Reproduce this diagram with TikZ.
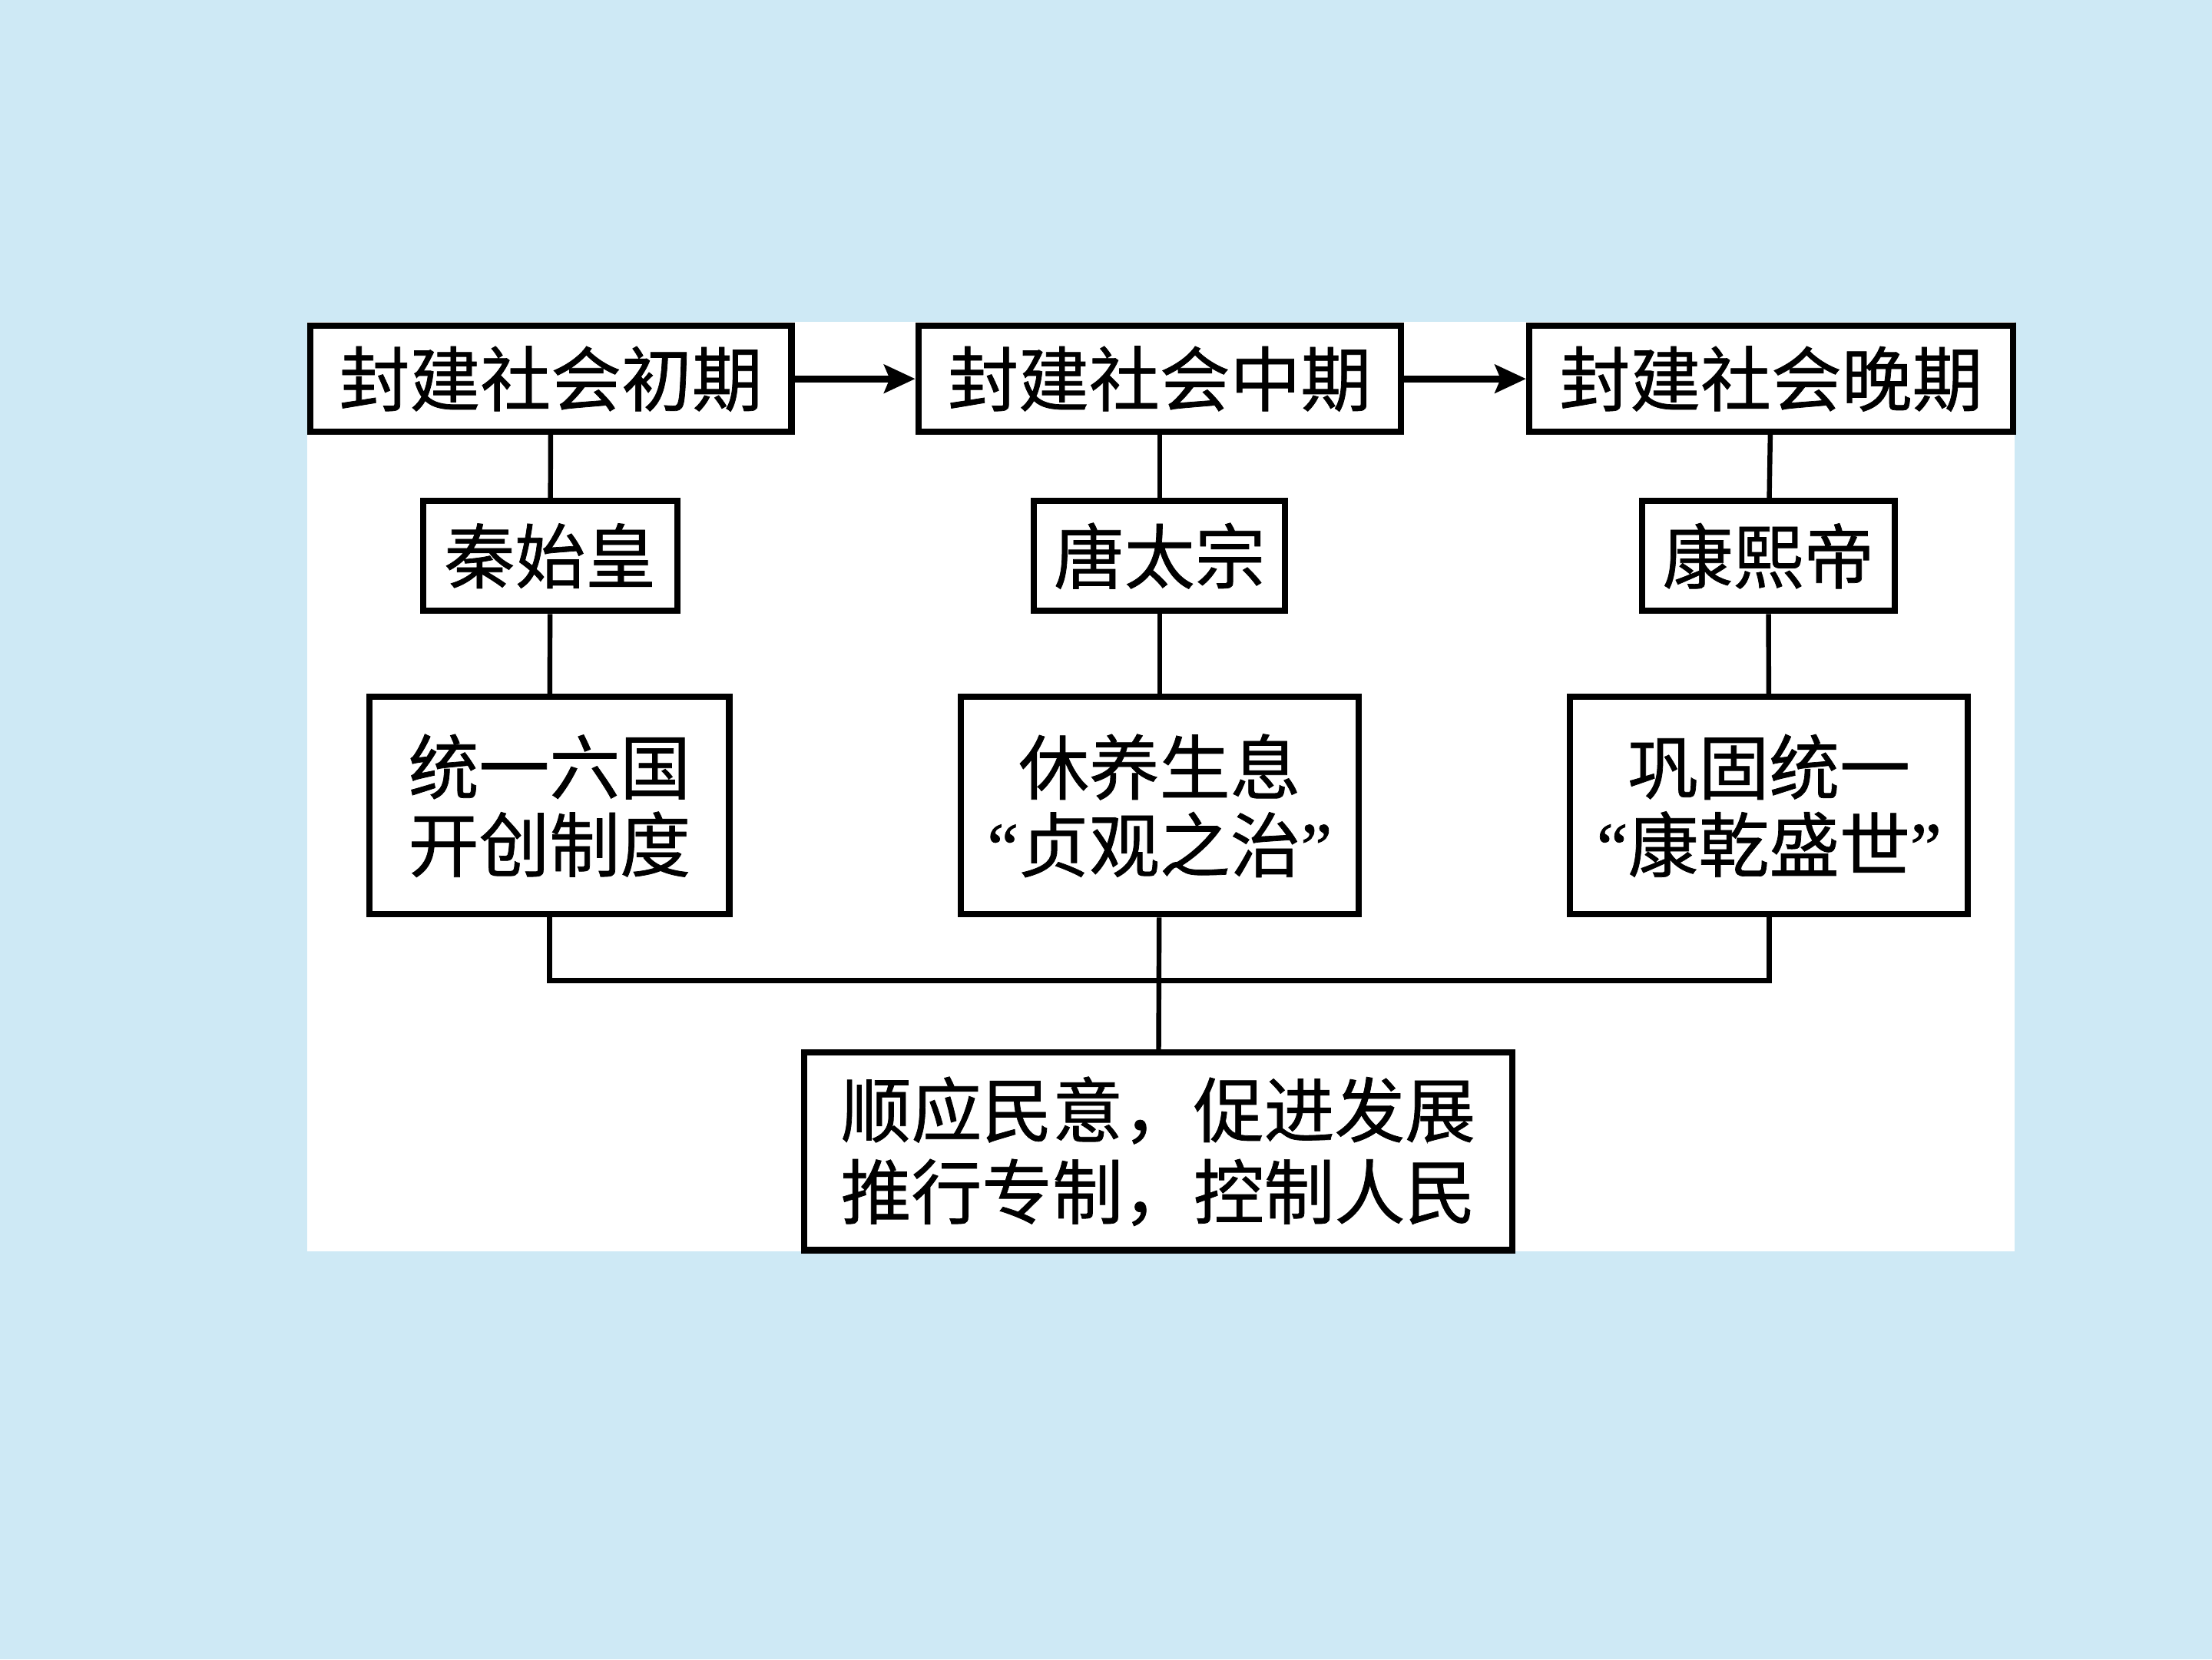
\documentclass[tikz,border=0pt]{standalone}
\usepackage{fontspec}
\setmainfont{Noto Sans CJK SC}[FakeBold=0.8]
\newfontfamily\qf{Liberation Serif}[FakeBold=0.8]
\newcommand{\myLQ}{{\qf “}}
\newcommand{\myRQ}{{\qf ”}}
\usetikzlibrary{arrows.meta}
\definecolor{bgblue}{RGB}{206,233,245}
\tikzset{
  box/.style={draw=black, line width=4.5pt, fill=white, inner sep=0pt, align=center,
    font=\fontsize{50}{55}\selectfont},
  link/.style={line width=3.5pt},
  flow/.style={line width=5pt, -{Stealth[length=22pt,width=20pt,inset=4pt]}}
}
\begin{document}
\begin{tikzpicture}[x=1pt,y=-1pt]
\useasboundingbox (0,0) rectangle (1568,1176);
\fill[bgblue] (0,0) rectangle (1568,1176);
\fill[white] (218,228) rectangle (1428,887);

\node[box, minimum width=341pt, minimum height=75pt] (t1) at (390.5,268.5) {封建社会初期};
\node[box, minimum width=342pt, minimum height=75pt] (t2) at (822,268.5) {封建社会中期};
\node[box, minimum width=343pt, minimum height=75pt] (t3) at (1255.5,268.5) {封建社会晚期};

\node[box, minimum width=180pt, minimum height=78pt] (m1) at (390,394) {秦始皇};
\node[box, minimum width=178pt, minimum height=78pt] (m2) at (822,394) {唐太宗};
\node[box, minimum width=179pt, minimum height=78pt] (m3) at (1253.5,394) {康熙帝};

\node[box, minimum width=255pt, minimum height=154pt] (b1) at (389.5,571) {统一六国\\开创制度};
\node[box, minimum width=282pt, minimum height=154pt] (b2) at (822,571) {休养生息\\\myLQ 贞观之治\myRQ};
\node[box, minimum width=282pt, minimum height=154pt] (b3) at (1254,571) {巩固统一\\\myLQ 康乾盛世\myRQ};

\node[box, minimum width=502pt, minimum height=140pt, font=\fontsize{50}{58}\selectfont] (r) at (821,816) {顺应民意，促进发展\\推行专制，控制人民};

\coordinate (bus) at (822,695);

\draw[flow] (t1) -- (t2);
\draw[flow] (t2) -- (t3);

\draw[link] (t1) -- (m1);
\draw[link] (m1) -- (b1);
\draw[link] (t2) -- (m2);
\draw[link] (m2) -- (b2);
\draw[link] (t3) -- (m3);
\draw[link] (m3) -- (b3);

\draw[link] (b1.south) -- (b1.south |- bus) -- (b3.south |- bus) -- (b3.south);
\draw[link] (b2) -- (r);
\end{tikzpicture}
\end{document}
